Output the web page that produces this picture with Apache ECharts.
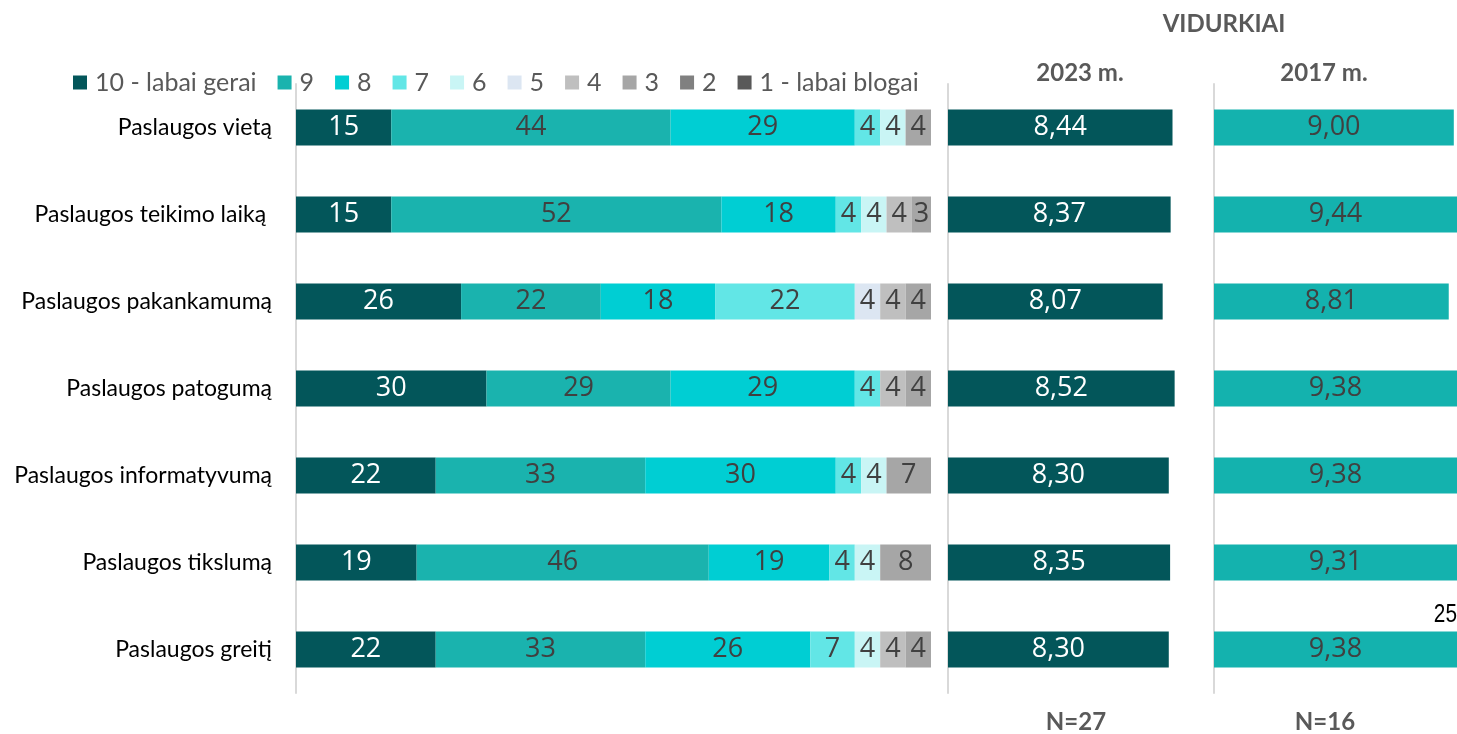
<!DOCTYPE html>
<html>
<head>
<meta charset="utf-8">
<script src="https://cdn.jsdelivr.net/npm/echarts@6/dist/echarts.min.js"></script>
<style>
  html, body { margin: 0; padding: 0; background: #fff; }
  #chart { width: 1457px; height: 734px; }
</style>
</head>
<body>
<div id="chart"></div>
<script>
const categories = [
  'Paslaugos vietą',
  'Paslaugos teikimo laiką ',
  'Paslaugos pakankamumą',
  'Paslaugos patogumą',
  'Paslaugos informatyvumą',
  'Paslaugos tikslumą',
  'Paslaugos greitį'
]

const ratingNames = ['10 - labai gerai', '9', '8', '7', '6', '5', '4', '3', '2', '1 - labai blogai']
const ratingColors = ['#03565A', '#1AB3AE', '#00CED3', '#62E6E6', '#C9F5F5', '#DCE6F2', '#BFBFBF', '#A6A6A6', '#808080', '#595959']

// shares in %, one array per rating, top row first
const r10 = [15, 15, 26, 30, 22, 19, 22]
const r9 = [44, 52, 22, 29, 33, 46, 33]
const r8 = [29, 18, 18, 29, 30, 19, 26]
const r7 = [4, 4, 22, 4, 4, 4, 7]
const r6 = [4, 4, null, null, 4, 4, 4]
const r5 = [null, null, 4, null, null, null, null]
const r4 = [null, 4, 4, 4, null, null, 4]
const r3 = [4, 3, 4, 4, 7, 8, 4]
const r2 = [null, null, null, null, null, null, null]
const r1 = [null, null, null, null, null, null, null]

const avg2023 = [8.44, 8.37, 8.07, 8.52, 8.30, 8.35, 8.30]
const avg2017 = [9.00, 9.44, 8.81, 9.38, 9.38, 9.31, 9.38]

const ratingData = [r10, r9, r8, r7, r6, r5, r4, r3, r2, r1]

const gridTop = 84
const gridHeight = 609
const lineColor = '#D9D9D9'
const labelFont = 'Open Sans'
const textFont = 'Lato'
const headColor = '#595959'

const stackSeries = ratingNames.map((name, i) => ({
  name: name,
  type: 'bar',
  stack: 'total',
  xAxisIndex: 0,
  yAxisIndex: 0,
  barWidth: 36,
  data: ratingData[i],
  itemStyle: { color: ratingColors[i] },
  label: {
    show: true,
    position: 'inside',
    color: i === 0 ? '#fff' : '#404040',
    fontSize: 27,
    fontFamily: labelFont
  }
}))

const fmt = p => p.value.toFixed(2).replace('.', ',')

const headText = (text, x, y) => ({
  type: 'text',
  x: x,
  y: y,
  style: {
    text: text, fontSize: 24, fontWeight: 'bold', fill: headColor,
    fontFamily: textFont, align: 'center', verticalAlign: 'middle'
  }
})

const option = {
  animation: false,
  textStyle: { fontFamily: textFont },
  legend: {
    data: ratingNames,
    left: 73,
    top: 70,
    padding: 0,
    itemWidth: 14,
    itemHeight: 14,
    itemGap: 21,
    icon: 'rect',
    textStyle: { fontSize: 25, color: '#595959', fontFamily: textFont, padding: [0, 0, 0, 3] }
  },
  grid: [
    { left: 296, top: gridTop, width: 635, height: gridHeight },
    { left: 948, top: gridTop, width: 266, height: gridHeight },
    // the 2017 panel runs past the right edge of the picture, so its axis stops at 9.12
    { left: 1214, top: gridTop, right: 0, height: gridHeight }
  ],
  xAxis: [
    { gridIndex: 0, type: 'value', min: 0, max: 100, show: false },
    { gridIndex: 1, type: 'value', min: 0, max: 10, show: false },
    { gridIndex: 2, type: 'value', min: 0, max: 9.12, show: false }
  ],
  yAxis: [0, 1, 2].map(g => ({
    gridIndex: g,
    type: 'category',
    inverse: true,
    data: categories,
    axisLine: { show: true, lineStyle: { color: lineColor, width: 2 } },
    axisTick: { show: false },
    axisLabel: g === 0
      ? { show: true, color: '#000', fontSize: 23, margin: 24, fontFamily: textFont }
      : { show: false },
    splitLine: { show: false }
  })),
  series: stackSeries.concat([
    {
      name: '2023 m.',
      type: 'bar',
      xAxisIndex: 1,
      yAxisIndex: 1,
      barWidth: 36,
      data: avg2023,
      itemStyle: { color: '#03565A' },
      label: { show: true, position: 'inside', color: '#fff', fontSize: 27, fontFamily: labelFont, formatter: fmt }
    },
    {
      name: '2017 m.',
      type: 'bar',
      xAxisIndex: 2,
      yAxisIndex: 2,
      barWidth: 36,
      data: avg2017,
      itemStyle: { color: '#14B2AE' },
      label: { show: true, position: 'inside', color: '#404040', fontSize: 27, fontFamily: labelFont, formatter: fmt }
    }
  ]),
  graphic: [
    headText('VIDURKIAI', 1224, 24),
    headText('2023 m.', 1080, 73),
    headText('2017 m.', 1324, 73),
    headText('N=27', 1076, 722),
    headText('N=16', 1325, 722),
    {
      type: 'text', x: 1457, y: 615, scaleX: 0.8,
      style: {
        text: '25', fontSize: 26, fill: '#000', align: 'right', verticalAlign: 'middle',
        fontFamily: 'Liberation Sans'
      }
    }
  ]
}

const myChart = echarts.init(document.getElementById('chart'))
myChart.setOption(option)

window.addEventListener('resize', () => {
  myChart.resize()
})
</script>
</body>
</html>
